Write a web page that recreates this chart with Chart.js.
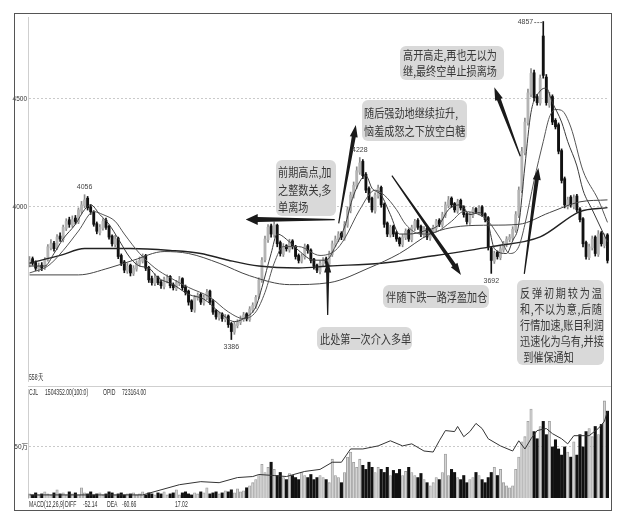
<!DOCTYPE html>
<html><head><meta charset="utf-8">
<script src="https://cdn.jsdelivr.net/npm/chart.js@4.4.1/dist/chart.umd.min.js"></script>
<style>
body{margin:0;background:#fff;}
#wrap{position:relative;width:633px;height:511px;overflow:hidden;font-family:"Liberation Sans","DejaVu Sans",sans-serif;}
canvas{position:absolute;}
.sm{position:absolute;font-size:8.5px;color:#333;white-space:nowrap;line-height:10px;transform:scaleX(0.6);transform-origin:0 0;}
.box{position:absolute;background:#d9d9d9;border-radius:6px;color:#383838;font-family:"Noto Sans CJK SC",sans-serif;}
.inner{position:absolute;transform:scaleX(0.81);transform-origin:0 0;font-size:12.5px;white-space:nowrap;}
.j{text-align:justify;text-align-last:justify;}
</style></head>
<body>
<div id="wrap">
<canvas id="pc" width="597" height="373" style="left:12px;top:13px"></canvas>
<canvas id="vc" width="597" height="124" style="left:12px;top:386px"></canvas>
<div style="position:absolute;left:28px;top:386px;width:583px;height:0;border-top:1px solid #cfcfcf"></div>
<div style="position:absolute;left:14px;top:13px;width:598px;height:498px;border:1px solid #555;box-sizing:border-box"></div>

<div class="sm" style="left:29px;top:372px">558天</div>
<div class="sm" style="left:29px;top:387px">CJL</div>
<div class="sm" style="left:45px;top:387px">1504352.00(100:0)</div>
<div class="sm" style="left:103px;top:387px">OPID</div>
<div class="sm" style="left:122px;top:387px">723164.00</div>
<div class="sm" style="left:29px;top:499px">MACD(12,26,9)</div>
<div class="sm" style="left:65px;top:499px">DIFF</div>
<div class="sm" style="left:83px;top:499px">-52.14</div>
<div class="sm" style="left:107px;top:499px">DEA</div>
<div class="sm" style="left:122px;top:499px">-60.66</div>
<div class="sm" style="left:175px;top:499px">17.02</div>

<div class="box" style="left:276px;top:160px;width:60px;height:56px">
 <div class="inner" style="left:2px;top:3px;width:69px;line-height:17.5px">前期高点,加<br>之整数关,多<br>单离场</div></div>
<div class="box" style="left:362px;top:100px;width:105px;height:41px">
 <div class="inner" style="left:2px;top:4px;width:125px;line-height:18px">随后强劲地继续拉升,<br>恼羞成怒之下放空白糖</div></div>
<div class="box" style="left:400px;top:46px;width:104px;height:34px">
 <div class="inner" style="left:3px;top:1px;width:121px;line-height:16px">高开高走,再也无以为<br>继,最终空单止损离场</div></div>
<div class="box" style="left:383px;top:285px;width:106px;height:23px">
 <div class="inner" style="left:3px;top:0;width:124px;line-height:23px">伴随下跌一路浮盈加仓</div></div>
<div class="box" style="left:317px;top:327px;width:95px;height:23px">
 <div class="inner" style="left:3px;top:0;width:112px;line-height:23px">此处第一次介入多单</div></div>
<div class="box" style="left:517px;top:280px;width:87px;height:85px">
 <div class="inner" style="left:3px;top:5px;width:101px;line-height:16px">
  <div class="j">反弹初期较为温</div><div class="j">和,不以为意,后随</div><div class="j">行情加速,账目利润</div><div class="j">迅速化为乌有,并接</div><div style="padding-left:4px">到催保通知</div>
 </div></div>
</div>
<script>
// ---- price data (one value per trading day) ----
const opens = [3735,3760,3742,3712,3730,3718,3755,3810,3832,3810,
 3865,3848,3900,3940,3915,3948,3930,3980,4005,4040,
 4000,3975,3922,3880,3900,3938,3910,3865,3825,3855,
 3775,3745,3702,3730,3690,3712,3735,3748,3775,3720,
 3668,3645,3675,3652,3630,3658,3678,3640,3620,3645,
 3668,3630,3610,3565,3522,3578,3595,3555,3578,3610,
 3565,3520,3486,3505,3478,3495,3460,3420,3450,3465,
 3478,3505,3478,3522,3540,3585,3660,3755,3848,3912,
 3870,3915,3835,3780,3820,3800,3842,3818,3775,3748,
 3768,3820,3800,3758,3730,3700,3735,3760,3735,3780,
 3825,3848,3878,3855,3915,3982,4050,4095,4160,4210,
 4150,4085,4040,3980,4050,4090,4012,3925,3870,3910,
 3880,3855,3825,3858,3892,3848,3900,3938,3910,3870,
 3900,3855,3882,3900,3938,3915,3960,4005,4040,4015,
 3980,4030,4000,3968,3928,3960,3992,3972,4000,3968,
 3950,3810,3748,3790,3765,3800,3825,3848,3855,3892,
 3960,4075,4250,4390,4520,4620,4510,4480,4790,4600,
 4470,4510,4400,4380,4260,4130,4000,4045,4000,4050,
 3990,3945,3835,3765,3810,3860,3780,3880,3820,3870];
const closes = [3752,3739,3716,3725,3716,3752,3815,3829,3806,3860,
 3851,3905,3932,3919,3941,3932,3986,4009,4032,3995,
 3977,3919,3887,3905,3932,3905,3860,3829,3851,3770,
 3739,3707,3725,3694,3716,3739,3752,3770,3716,3662,
 3649,3671,3649,3635,3662,3671,3635,3626,3649,3662,
 3626,3604,3559,3527,3581,3590,3559,3581,3604,3559,
 3513,3491,3500,3482,3491,3455,3423,3455,3468,3482,
 3500,3482,3527,3545,3581,3662,3752,3851,3905,3874,
 3919,3829,3784,3815,3806,3838,3815,3770,3752,3770,
 3815,3797,3752,3725,3707,3739,3752,3739,3784,3829,
 3851,3874,3860,3919,3986,4054,4099,4167,4203,4144,
 4077,4032,3986,4054,4086,4009,3919,3874,3905,3874,
 3851,3829,3860,3887,3851,3905,3932,3905,3874,3896,
 3860,3887,3905,3932,3919,3964,4009,4032,4009,3986,
 4023,3995,3964,3932,3964,3986,3977,3995,3964,3941,
 3815,3752,3784,3770,3806,3829,3851,3860,3896,3964,
 4077,4257,4392,4527,4617,4505,4482,4595,4608,4482,
 4505,4392,4370,4257,4122,4009,4032,4009,4041,3986,
 3941,3829,3770,3815,3851,3784,3874,3829,3860,3752];
const highs = [3770,3768,3750,3740,3742,3765,3825,3848,3840,3872,
 3880,3915,3945,3952,3958,3960,3995,4025,4056,4048,
 4010,3982,3930,3918,3945,3948,3915,3870,3868,3860,
 3782,3752,3738,3735,3728,3750,3768,3782,3780,3725,
 3680,3690,3680,3660,3675,3685,3682,3648,3660,3678,
 3672,3638,3615,3570,3590,3602,3600,3592,3618,3615,
 3572,3525,3512,3510,3502,3500,3465,3468,3478,3495,
 3512,3510,3538,3556,3590,3672,3765,3865,3918,3920,
 3930,3920,3842,3830,3825,3850,3848,3822,3782,3782,
 3828,3826,3806,3762,3735,3750,3765,3768,3795,3842,
 3865,3885,3885,3932,4000,4068,4115,4185,4228,4218,
 4158,4092,4045,4065,4100,4096,4018,3930,3915,3915,
 3886,3860,3872,3898,3898,3915,3942,3945,3915,3908,
 3905,3898,3915,3942,3945,3975,4022,4048,4046,4020,
 4035,4036,4005,3972,3975,3998,3996,4006,4006,3972,
 3955,3815,3795,3796,3818,3840,3862,3872,3908,3978,
 4092,4275,4410,4545,4640,4632,4520,4610,4857,4612,
 4530,4518,4408,4388,4268,4138,4045,4052,4055,4058,
 3996,3950,3842,3828,3865,3866,3890,3886,3875,3876];
const lows = [3722,3730,3705,3700,3705,3710,3748,3800,3795,3802,
 3840,3838,3890,3905,3905,3920,3922,3970,3995,3985,
 3965,3910,3875,3870,3892,3895,3850,3818,3815,3760,
 3728,3695,3692,3680,3682,3702,3725,3740,3705,3650,
 3638,3635,3640,3622,3620,3648,3625,3615,3612,3635,
 3615,3592,3545,3515,3512,3568,3548,3545,3570,3548,
 3502,3480,3475,3470,3468,3442,3386,3410,3440,3455,
 3470,3472,3470,3512,3530,3575,3650,3745,3835,3860,
 3860,3815,3772,3770,3795,3790,3805,3758,3740,3740,
 3758,3785,3740,3712,3695,3690,3725,3728,3725,3770,
 3815,3838,3848,3845,3905,3972,4040,4085,4150,4130,
 4065,4020,3975,3970,4040,3998,3905,3862,3860,3862,
 3840,3818,3815,3848,3840,3838,3890,3895,3862,3860,
 3848,3845,3872,3890,3908,3905,3950,3995,3998,3975,
 3970,3985,3952,3920,3918,3950,3968,3962,3955,3930,
 3800,3692,3738,3758,3755,3790,3815,3838,3845,3882,
 3950,4065,4240,4378,4508,4490,4470,4470,4595,4470,
 4460,4380,4360,4245,4110,3995,3990,3998,3990,3975,
 3930,3815,3758,3755,3800,3772,3770,3818,3810,3740];
// volume in 万 lots
const volumes = [4,3,5,3,4,6,4,3,5,8, 4,5,3,6,4,5,3,10,5,4,
 6,3,4,5,3,4,6,5,3,4, 5,3,4,4,5,3,4,6,3,5,
 4,3,5,4,6,3,4,5,8,3, 5,6,4,3,5,4,6,5,10,4,
 5,6,4,5,7,6,8,5,9,6, 7,10,12,15,18,22,33,25,30,35,
 28,22,25,20,18,24,22,20,18,25, 22,20,23,18,20,22,20,18,15,38,
 22,20,15,25,40,45,35,30,38,32, 28,35,30,25,30,28,25,30,22,27,
 24,28,22,26,30,25,22,20,24,18, 15,12,15,20,18,25,43,22,28,25,
 20,18,22,15,18,20,25,22,18,15, 20,25,30,22,28,15,12,10,12,28,
 40,55,60,75,87,65,58,70,75,62, 75,50,57,48,42,50,45,40,55,42,
 62,50,65,68,60,70,62,72,95,85];
// open interest line, read at [day, value(万)]
const openInterest = [[0,3],[20,3],[37,3],[43,8],[49,13],[56,16],[62,15],[68,20],[73,21],[75,23],[80,22],[84,21],[90,26],[95,28],[99,35],[102,35],[105,48],[109,48],[114,51],[118,56],[122,51],[125,53],[129,46],[132,45],[134,56],[136,66],[139,65],[140,70],[142,60],[144,65],[146,73],[148,68],[150,58],[154,51],[158,46],[160,56],[162,48],[164,58],[166,66],[169,68],[171,63],[174,58],[176,53],[178,61],[181,61],[183,61],[186,68],[188,75],[189,85]];
// moving averages, read at [day, price]
const maShort = [[0,3726],[5,3726],[8,3784],[11,3852],[15,3919],[18,3987],[20,4009],[23,3964],[26,3919],[29,3852],[33,3762],[36,3726],[39,3717],[42,3672],[47,3640],[52,3595],[57,3573],[62,3514],[67,3469],[70,3483],[74,3537],[76,3627],[79,3784],[81,3874],[85,3838],[88,3798],[93,3753],[97,3753],[100,3816],[103,3906],[106,4054],[110,4144],[112,4086],[115,4054],[118,3964],[121,3874],[124,3874],[129,3888],[134,3919],[137,3987],[141,4009],[144,3964],[147,3973],[150,3919],[152,3807],[156,3784],[158,3843],[160,3919],[162,4189],[164,4437],[167,4536],[169,4549],[171,4482],[174,4392],[176,4302],[179,4189],[181,4077],[184,3987],[187,3897],[189,3838]];
const maMid = [[0,3694],[6,3726],[11,3798],[16,3888],[21,3978],[24,3964],[28,3933],[31,3874],[36,3784],[41,3717],[46,3672],[52,3627],[59,3582],[65,3514],[70,3483],[74,3514],[77,3604],[80,3739],[83,3816],[88,3816],[95,3775],[100,3798],[103,3852],[108,3987],[113,4077],[116,4054],[120,3987],[123,3919],[128,3874],[133,3883],[138,3933],[142,3978],[147,3964],[150,3933],[154,3852],[157,3784],[160,3816],[162,3919],[165,4122],[168,4302],[170,4414],[172,4450],[174,4446],[177,4369],[181,4167],[186,4032],[189,3928]];
const ma60 = [[0,3685],[16,3685],[26,3717],[34,3753],[44,3793],[52,3784],[62,3739],[72,3681],[85,3640],[98,3649],[111,3717],[121,3784],[131,3874],[141,3910],[151,3915],[160,3919],[170,3973],[180,4023],[189,4032]];
const ma120 = [[0,3739],[10,3775],[18,3807],[33,3807],[46,3798],[56,3784],[65,3753],[75,3726],[88,3717],[98,3726],[115,3739],[131,3771],[151,3816],[167,3861],[180,3978],[189,3996]];
const priceTicks = [4000, 4500];
const volumeTicks = [50];
const extremes = [{day:18,text:'4056',side:'high'},{day:66,text:'3386',side:'low'},{day:108,text:'4228',side:'high'},{day:151,text:'3692',side:'low'},{day:168,text:'4857',side:'left'}];
// annotation arrows in data coordinates [day, price]
const arrows = [
 {from:[99.8,3941], to:[70.7,3941], w1:1.2, w2:5, hl:12, hw:11},
 {from:[101.1,3923], to:[106.7,4378], w1:1.2, w2:4, hl:12, hw:8},
 {from:[118.5,4144], to:[141.1,3685], w1:1.2, w2:4, hl:12, hw:8},
 {from:[97.5,3500], to:[97.5,3752], w1:1.2, w2:3.2, hl:12, hw:7},
 {from:[160.5,4234], to:[152,4553], w1:1.2, w2:4, hl:13, hw:8},
 {from:[161.8,3690], to:[166.4,4180], w1:1.2, w2:4, hl:12, hw:8}
];

const N = closes.length;
const isUp = i => closes[i] >= opens[i];
const smallFont = "'Liberation Sans',sans-serif";

function drawArrow(ctx,x1,y1,x2,y2,w1,w2,hl,hw){
  const dx=x2-x1, dy=y2-y1, len=Math.hypot(dx,dy), ux=dx/len, uy=dy/len, px=-uy, py=ux;
  const bx=x2-ux*hl, by=y2-uy*hl;
  ctx.beginPath();
  ctx.moveTo(x1+px*w1/2, y1+py*w1/2);
  ctx.lineTo(bx+px*w2/2, by+py*w2/2);
  ctx.lineTo(bx+px*hw/2, by+py*hw/2);
  ctx.lineTo(x2,y2);
  ctx.lineTo(bx-px*hw/2, by-py*hw/2);
  ctx.lineTo(bx-px*w2/2, by-py*w2/2);
  ctx.lineTo(x1-px*w1/2, y1-py*w1/2);
  ctx.closePath(); ctx.fill();
}

const annotPlugin = {
  id:'annot',
  afterDatasetsDraw(chart){
    const ctx = chart.ctx, xs = chart.scales.x, ys = chart.scales.y;
    ctx.save();
    ctx.fillStyle = '#1a1a1a';
    arrows.forEach(a=>{
      drawArrow(ctx, xs.getPixelForValue(a.from[0]), ys.getPixelForValue(a.from[1]),
        xs.getPixelForValue(a.to[0]), ys.getPixelForValue(a.to[1]), a.w1, a.w2, a.hl, a.hw);
    });
    ctx.font = "7px " + smallFont;
    ctx.fillStyle = '#444';
    extremes.forEach(e=>{
      const x = xs.getPixelForValue(e.day);
      if (e.side==='high'){
        ctx.textAlign='center'; ctx.textBaseline='bottom';
        ctx.fillText(e.text, x, ys.getPixelForValue(highs[e.day]) - 4);
      } else if (e.side==='low'){
        ctx.textAlign='center'; ctx.textBaseline='top';
        ctx.fillText(e.text, x, ys.getPixelForValue(lows[e.day]) + 4);
      } else {
        const y = ys.getPixelForValue(highs[e.day]) + 1;
        ctx.textAlign='right'; ctx.textBaseline='middle';
        ctx.fillText(e.text, x - 10, y);
        ctx.strokeStyle='#555'; ctx.lineWidth=0.8; ctx.setLineDash([2,1]);
        ctx.beginPath(); ctx.moveTo(x-9,y); ctx.lineTo(x,y); ctx.stroke();
      }
    });
    ctx.restore();
  }
};

const idx = closes.map((c,i)=>i);
const lineDs = (pts, color, w) => ({type:'line', data:pts.map(p=>({x:p[0],y:p[1]})), borderColor:color, borderWidth:w,
  pointRadius:0, cubicInterpolationMode:'monotone', order:0});
const xScale = {type:'linear', min:-0.5, max:N-0.5, offset:false, display:false, grid:{offset:false}};

new Chart(document.getElementById('pc'), {
  data:{datasets:[
    lineDs(maShort,'#3a3a3a',1),
    lineDs(maMid,'#555',1),
    lineDs(ma60,'#444',1),
    lineDs(ma120,'#222',1.4),
    {type:'bar', data:idx.map(i=>({x:i,y:[lows[i],highs[i]]})), backgroundColor:idx.map(i=>isUp(i)?'#8c8c8c':'#111'),
     barThickness:1, grouped:false, order:2},
    {type:'bar', data:idx.map(i=>({x:i,y:[opens[i],closes[i]]})), backgroundColor:idx.map(i=>isUp(i)?'#b4b4b4':'#111'),
     barThickness:2.2, grouped:false, order:1}
  ]},
  options:{responsive:false, animation:false, layout:{padding:0},
    plugins:{legend:{display:false}, tooltip:{enabled:false}},
    scales:{
      x:xScale,
      y:{min:3193.7, max:4873.9, afterFit(s){s.width=16;},
        afterBuildTicks(s){s.ticks=priceTicks.map(v=>({value:v}));},
        ticks:{font:{size:6.5,family:smallFont}, color:'#333', padding:1, callback:v=>String(v)},
        grid:{color:'#bdbdbd', lineWidth:0.8, drawTicks:false},
        border:{display:true, color:'#cfcfcf', width:1, dash:[2,2]}}
    }},
  plugins:[annotPlugin]
});

new Chart(document.getElementById('vc'), {
  data:{datasets:[
    {type:'line', data:openInterest.map(p=>({x:p[0],y:p[1]})), borderColor:'#333', borderWidth:1, pointRadius:0, tension:0, order:0},
    {type:'bar', data:idx.map(i=>({x:i,y:volumes[i]})), backgroundColor:idx.map(i=>isUp(i)?'#d4d4d4':'#111'),
     borderColor:idx.map(i=>isUp(i)?'#999':'#111'), borderWidth:idx.map(i=>isUp(i)?0.8:0), barThickness:2.4, grouped:false, order:1}
  ]},
  options:{responsive:false, animation:false, layout:{padding:{top:2,bottom:12}},
    plugins:{legend:{display:false}, tooltip:{enabled:false}},
    scales:{
      x:xScale,
      y:{min:0, max:105.8, afterFit(s){s.width=16;},
        afterBuildTicks(s){s.ticks=volumeTicks.map(v=>({value:v}));},
        ticks:{font:{size:6.5,family:"'Liberation Sans','Noto Sans CJK SC',sans-serif"}, color:'#333', padding:0, callback:v=>v+'万'},
        grid:{color:'#bdbdbd', lineWidth:0.8, drawTicks:false},
        border:{display:true, color:'#cfcfcf', width:1, dash:[2,2]}}
    }}
});
</script>
</body></html>
